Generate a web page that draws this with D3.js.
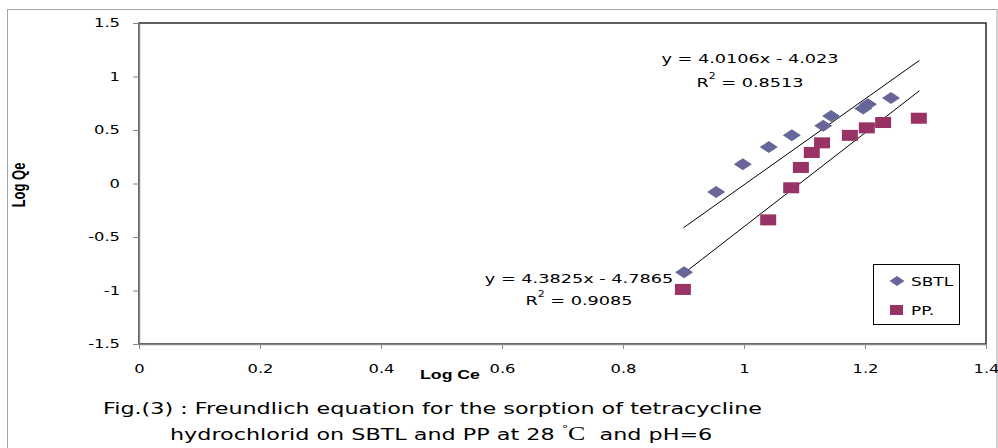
<!DOCTYPE html>
<html>
<head>
<meta charset="utf-8">
<script src="https://cdn.jsdelivr.net/npm/d3@7.9.0/dist/d3.min.js"></script>
<style>
  body { margin: 0; background: #fff; }
  svg { display: block; }
  text { font-family: "DejaVu Sans", Verdana, sans-serif; fill: #000; }
</style>
</head>
<body>
<div id="vis"></div>
<script>
// data
const sbtlX = [0.901, 0.954, 0.998, 1.041, 1.079, 1.131, 1.144, 1.197, 1.205, 1.243];
const sbtlY = [-0.83, -0.08, 0.18, 0.34, 0.45, 0.54, 0.63, 0.70, 0.74, 0.80];
const ppX   = [0.899, 1.040, 1.078, 1.094, 1.112, 1.129, 1.175, 1.203, 1.230, 1.289];
const ppY   = [-0.99, -0.34, -0.04, 0.15, 0.29, 0.38, 0.45, 0.52, 0.57, 0.61];

const seriesNames = ['SBTL', 'PP.'];
const trendSlope = [4.0106, 4.3825];
const trendIntercept = [-4.023, -4.7865];
const trendRange = [0.9, 1.29];
const eqLabels = ['y = 4.0106x - 4.023', 'y = 4.3825x - 4.7865'];
const r2Labels = ['0.8513', '0.9085'];

const xTicks = [0, 0.2, 0.4, 0.6, 0.8, 1, 1.2, 1.4];
const yTicks = [-1.5, -1, -0.5, 0, 0.5, 1, 1.5];

const W = 998, H = 448;
const SX = 1.36; // the picture is stretched sideways

const svg = d3.select('#vis').append('svg')
  .attr('width', W).attr('height', H);

// stretch text horizontally to match the picture
function widen(sel, k) {
  sel.each(function() {
    const w = this.getComputedTextLength();
    d3.select(this).attr('textLength', w * k).attr('lengthAdjust', 'spacingAndGlyphs');
  });
}

// outer frame
svg.append('rect')
  .attr('x', 7.5).attr('y', 9.5).attr('width', 989.5).attr('height', 460)
  .attr('fill', '#fff').attr('stroke', '#a6a6a6');

const x = d3.scaleLinear().domain([0, 1.4]).range([139, 986]);
const y = d3.scaleLinear().domain([-1.5, 1.5]).range([344, 23]);

// plot area border
svg.append('rect')
  .attr('x', x(0)).attr('y', y(1.5))
  .attr('width', x(1.4) - x(0)).attr('height', y(-1.5) - y(1.5))
  .attr('fill', '#fff').attr('stroke', '#1a1a1a').attr('stroke-width', 1.4);

// axes (plain hyphen for negatives, like the original)
const fmt = d => String(d);
const yAxis = svg.append('g')
  .attr('transform', `translate(${x(0)},0)`)
  .call(d3.axisLeft(y).tickValues(yTicks).tickSize(6).tickSizeOuter(0).tickPadding(13)
    .tickFormat(fmt));
const xAxis = svg.append('g')
  .attr('transform', `translate(0,${y(-1.5)})`)
  .call(d3.axisBottom(x).tickValues(xTicks).tickSize(5).tickSizeOuter(0).tickPadding(15)
    .tickFormat(fmt));

[yAxis, xAxis].forEach(g => {
  g.select('.domain').attr('stroke', '#868686').attr('stroke-width', 1.4);
  g.selectAll('.tick line').attr('stroke', '#868686');
  g.selectAll('.tick text')
    .attr('font-family', '"DejaVu Sans", Verdana, sans-serif')
    .attr('font-size', 12).attr('fill', '#000')
    .call(widen, SX);
});

// axis titles
svg.append('text')
  .attr('transform', 'translate(25,185) rotate(-90) scale(1,1.36)')
  .attr('text-anchor', 'middle')
  .style('font-family', '"Liberation Sans", Arial, sans-serif')
  .attr('font-weight', 'bold').attr('font-size', 13)
  .text('Log Qe');

svg.append('text')
  .attr('x', 450).attr('y', 379)
  .attr('text-anchor', 'middle')
  .style('font-family', '"Liberation Sans", Arial, sans-serif')
  .attr('font-weight', 'bold').attr('font-size', 13)
  .text('Log Ce')
  .call(widen, SX);

// trend lines
trendSlope.forEach((m, i) => {
  const pts = trendRange.map(v => [x(v), y(m * v + trendIntercept[i])]);
  svg.append('line')
    .attr('x1', pts[0][0]).attr('y1', pts[0][1])
    .attr('x2', pts[1][0]).attr('y2', pts[1][1])
    .attr('stroke', '#000').attr('stroke-width', 1);
});

// markers
const diamond = (w, h) => `M0,${-h/2}L${w/2},0L0,${h/2}L${-w/2},0Z`;
const sbtl = sbtlX.map((v, i) => ({x: v, y: sbtlY[i]}));
const pp = ppX.map((v, i) => ({x: v, y: ppY[i]}));

svg.append('g').selectAll('rect')
  .data(pp).join('rect')
    .attr('x', d => x(d.x) - 8).attr('y', d => y(d.y) - 5.5)
    .attr('width', 16).attr('height', 11)
    .attr('fill', '#993366');

svg.append('g').selectAll('path')
  .data(sbtl).join('path')
    .attr('transform', d => `translate(${x(d.x)},${y(d.y)})`)
    .attr('d', diamond(18, 12))
    .attr('fill', '#666699');

// equation labels
const eqPos = [[750, 58, 82], [579, 278, 300]];
eqLabels.forEach((t, i) => {
  const [cx, ey, ry] = eqPos[i];
  svg.append('text')
    .attr('x', cx).attr('y', ey).attr('dy', '0.36em')
    .attr('text-anchor', 'middle').attr('font-size', 13)
    .text(t)
    .call(widen, SX);
  const r = svg.append('text')
    .attr('x', cx).attr('y', ry).attr('dy', '0.36em')
    .attr('text-anchor', 'middle').attr('font-size', 13);
  r.append('tspan').text('R');
  r.append('tspan').attr('font-size', 8).attr('dy', '-0.9em').text('2');
  r.append('tspan').attr('dy', '0.58em').text(' = ' + r2Labels[i]);
  r.call(widen, SX);
});

// legend
const lg = svg.append('g');
lg.append('rect')
  .attr('x', 873.5).attr('y', 264.5).attr('width', 86).attr('height', 60)
  .attr('fill', '#fff').attr('stroke', '#000');
lg.append('path')
  .attr('transform', 'translate(897,281)')
  .attr('d', diamond(15, 10)).attr('fill', '#666699');
lg.append('rect')
  .attr('x', 890).attr('y', 305).attr('width', 13).attr('height', 10)
  .attr('fill', '#993366');
lg.selectAll('text.lab')
  .data(seriesNames).join('text')
    .attr('class', 'lab')
    .attr('x', 911).attr('y', (d, i) => i ? 310 : 281).attr('dy', '0.36em')
    .attr('font-size', 13)
    .text(d => d)
    .call(widen, 1.3);

// caption
const cap1 = svg.append('text')
  .attr('x', 103).attr('y', 414).attr('font-size', 15.5)
  .text('Fig.(3) : Freundlich equation for the sorption of tetracycline');
const k = 659 / cap1.node().getComputedTextLength();
cap1.call(widen, k);

const cap2 = svg.append('text')
  .attr('x', 170).attr('y', 440).attr('font-size', 15.5)
  .style('white-space', 'pre');
cap2.append('tspan').text('hydrochlorid on SBTL and PP at 28 ');
cap2.append('tspan').attr('font-size', 9).attr('dy', -8).text('°');
cap2.append('tspan').attr('dy', 8)
  .style('font-family', '"Liberation Serif", "Times New Roman", serif')
  .attr('font-size', 18).text('C');
cap2.append('tspan').text('  and pH=6');
cap2.call(widen, k);
</script>
</body>
</html>
